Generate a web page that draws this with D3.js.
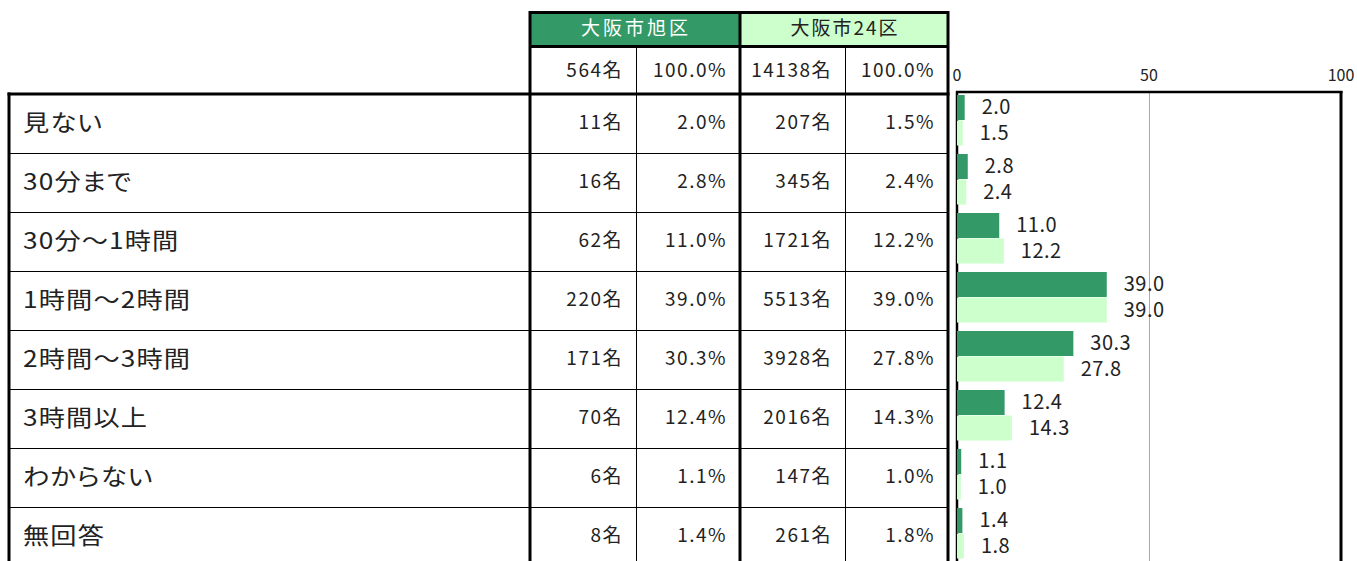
<!DOCTYPE html>
<html lang="ja">
<head>
<meta charset="utf-8">
<script src="https://cdn.jsdelivr.net/npm/d3@7"></script>
<style>
  html, body { margin: 0; padding: 0; background: #fff; }
  svg { display: block; font-family: "Noto Sans CJK JP", "Noto Sans", sans-serif; }
  .rowlabel { font-feature-settings: "palt"; }
</style>
</head>
<body>
<svg id="chart" width="1357" height="561"></svg>
<script>
// Viewing time categories and the two survey groups
const categories = ["見ない", "30分まで", "30分～1時間", "1時間～2時間", "2時間～3時間", "3時間以上", "わからない", "無回答"];
const groupNames = ["大阪市旭区", "大阪市24区"];
const groupTotals = [564, 14138];
const asahiCount = [11, 16, 62, 220, 171, 70, 6, 8];
const asahiPct = [2.0, 2.8, 11.0, 39.0, 30.3, 12.4, 1.1, 1.4];
const osakaCount = [207, 345, 1721, 5513, 3928, 2016, 147, 261];
const osakaPct = [1.5, 2.4, 12.2, 39.0, 27.8, 14.3, 1.0, 1.8];
const axisTicks = [0, 50, 100];

const svg = d3.select("#chart");
const W = 1357, H = 561;
const textColor = "#222";
const darkGreen = "#339966";
const lightGreen = "#ccffcc";
const vShift = -3; // optical centring for the CJK font

// Table geometry
const colX = [9, 530, 636, 740, 845, 948];
const headTop = 11, headMid = 46, bodyTop = 94, rowH = 59;

const y = d3.scaleBand()
  .domain(categories)
  .range([bodyTop, bodyTop + rowH * categories.length])
  .paddingInner(0).paddingOuter(0);

// Header fills
svg.append("rect").attr("x", colX[1]).attr("y", headTop)
  .attr("width", colX[3] - colX[1]).attr("height", headMid - headTop).attr("fill", darkGreen);
svg.append("rect").attr("x", colX[3]).attr("y", headTop)
  .attr("width", colX[5] - colX[3]).attr("height", headMid - headTop).attr("fill", lightGreen);

svg.append("text").attr("x", (colX[1] + colX[3]) / 2 + 1).attr("y", (headTop + headMid) / 2 + vShift + 1)
  .attr("text-anchor", "middle").attr("dominant-baseline", "central")
  .attr("font-size", 19).attr("letter-spacing", 3).attr("fill", "#fff").text(groupNames[0]);
svg.append("text").attr("x", (colX[3] + colX[5]) / 2 + 1).attr("y", (headTop + headMid) / 2 + vShift + 1)
  .attr("text-anchor", "middle").attr("dominant-baseline", "central")
  .attr("font-size", 19).attr("letter-spacing", 2).attr("fill", textColor).text(groupNames[1]);

// Totals row
const totalCells = [
  { x: colX[2], t: groupTotals[0] + "名" },
  { x: colX[3], t: "100.0%" },
  { x: colX[4], t: groupTotals[1] + "名" },
  { x: colX[5], t: "100.0%" }
];
svg.selectAll("text.total").data(totalCells).join("text")
  .attr("class", "total")
  .attr("x", d => d.x - 13).attr("y", (headMid + bodyTop) / 2 + vShift + 1)
  .attr("text-anchor", "end").attr("dominant-baseline", "central")
  .attr("font-size", 19).attr("letter-spacing", 1.5).attr("fill", textColor).text(d => d.t);

// Body rows
const rows = categories.map((c, i) => ({
  cat: c,
  cells: [asahiCount[i] + "名", asahiPct[i].toFixed(1) + "%", osakaCount[i] + "名", osakaPct[i].toFixed(1) + "%"]
}));

const rowG = svg.selectAll("g.row").data(rows).join("g").attr("class", "row");
rowG.append("text")
  .attr("class", "rowlabel")
  .attr("transform", d => `translate(23,${y(d.cat) + rowH / 2 + vShift}) scale(1.14,1)`)
  .attr("dominant-baseline", "central")
  .attr("font-size", 23).attr("letter-spacing", 1).attr("fill", textColor)
  .text(d => d.cat);
rowG.each(function (d) {
  d3.select(this).selectAll("text.cell").data(d.cells).join("text")
    .attr("class", "cell")
    .attr("x", (t, j) => colX[j + 2] - 13)
    .attr("y", y(d.cat) + rowH / 2 + vShift)
    .attr("text-anchor", "end").attr("dominant-baseline", "central")
    .attr("font-size", 19).attr("letter-spacing", 1.5).attr("fill", textColor)
    .text(t => t);
});

// Row separators (thin)
svg.selectAll("line.rowsep").data(categories.slice(1)).join("line")
  .attr("class", "rowsep")
  .attr("x1", colX[0]).attr("x2", colX[5])
  .attr("y1", d => y(d) + 0.5).attr("y2", d => y(d) + 0.5)
  .attr("stroke", "#000").attr("stroke-width", 1);

// Thin column lines
[colX[2], colX[4]].forEach(x => {
  svg.append("line").attr("x1", x + 0.5).attr("x2", x + 0.5)
    .attr("y1", headMid).attr("y2", H).attr("stroke", "#000").attr("stroke-width", 1);
});

// Thick borders
const thick = 3;
svg.append("line").attr("x1", colX[1]).attr("x2", colX[5]).attr("y1", headTop + 1.5).attr("y2", headTop + 1.5)
  .attr("stroke", "#000").attr("stroke-width", thick);
svg.append("line").attr("x1", colX[1]).attr("x2", colX[5]).attr("y1", headMid + 0.5).attr("y2", headMid + 0.5)
  .attr("stroke", "#000").attr("stroke-width", thick);
svg.append("line").attr("x1", colX[0] - 1.5).attr("x2", colX[5] + 1.5).attr("y1", bodyTop).attr("y2", bodyTop)
  .attr("stroke", "#000").attr("stroke-width", thick);
svg.append("line").attr("x1", colX[0]).attr("x2", colX[0]).attr("y1", bodyTop - 1.5).attr("y2", H)
  .attr("stroke", "#000").attr("stroke-width", thick);
[colX[1], colX[3], colX[5]].forEach(x => {
  svg.append("line").attr("x1", x).attr("x2", x).attr("y1", headTop).attr("y2", H)
    .attr("stroke", "#000").attr("stroke-width", thick);
});

// Bar chart
const x = d3.scaleLinear().domain([0, 100]).range([957, 1341]);
const chartTop = 92;

// Gridline at 50
svg.append("line").attr("x1", x(50) + 0.5).attr("x2", x(50) + 0.5)
  .attr("y1", chartTop).attr("y2", H).attr("stroke", "#aaa").attr("stroke-width", 1);

// Frame
svg.append("line").attr("x1", x(0)).attr("x2", x(0)).attr("y1", chartTop - 1).attr("y2", H)
  .attr("stroke", "#000").attr("stroke-width", 2.5);
svg.append("line").attr("x1", x(100)).attr("x2", x(100)).attr("y1", chartTop - 1).attr("y2", H)
  .attr("stroke", "#000").attr("stroke-width", 3);
svg.append("line").attr("x1", x(0) - 1).attr("x2", x(100) + 1.5).attr("y1", chartTop).attr("y2", chartTop)
  .attr("stroke", "#000").attr("stroke-width", 2.5);

// Tick labels
svg.selectAll("text.tick").data(axisTicks).join("text")
  .attr("class", "tick")
  .attr("x", d => x(d)).attr("y", 74)
  .attr("text-anchor", "middle").attr("dominant-baseline", "central")
  .attr("font-size", 16).attr("fill", textColor)
  .text(d => d);

// Bars: two per category
const barH = 25;
const series = [
  { vals: asahiPct, fill: darkGreen, off: 1 },
  { vals: osakaPct, fill: lightGreen, off: 1 + barH + 0.5 }
];
series.forEach(s => {
  svg.selectAll(null).data(categories).join("rect")
    .attr("x", x(0))
    .attr("y", (c) => y(c) + s.off)
    .attr("width", (c, i) => x(s.vals[i]) - x(0))
    .attr("height", barH)
    .attr("fill", s.fill);
  svg.selectAll(null).data(categories).join("text")
    .attr("x", (c, i) => x(s.vals[i]) + 17)
    .attr("y", (c) => y(c) + s.off + barH / 2 + vShift + 1)
    .attr("dominant-baseline", "central")
    .attr("font-size", 20).attr("letter-spacing", 0.5).attr("fill", textColor)
    .text((c, i) => s.vals[i].toFixed(1));
});
</script>
</body>
</html>
